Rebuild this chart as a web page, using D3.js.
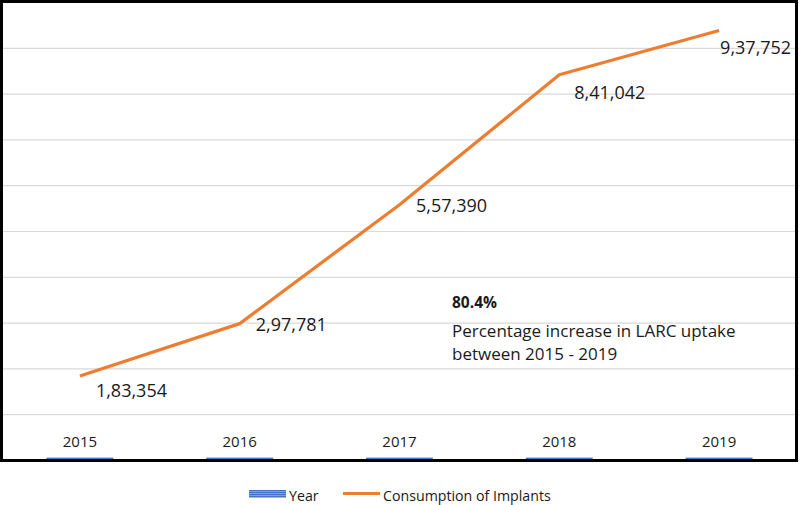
<!DOCTYPE html>
<html>
<head>
<meta charset="utf-8">
<script src="https://cdn.jsdelivr.net/npm/d3@7"></script>
<style>
  html, body { margin: 0; padding: 0; background: #fff; }
  svg { display: block; font-family: "Open Sans", "Noto Sans", sans-serif; }
</style>
</head>
<body>
<svg id="chart" width="800" height="505"></svg>
<script>
// ---- data ----
const years = ["2015", "2016", "2017", "2018", "2019"];
const yearValues = [2015, 2016, 2017, 2018, 2019];
const implants = [183354, 297781, 557390, 841042, 937752];
const yTicks = [0, 100000, 200000, 300000, 400000, 500000, 600000, 700000, 800000, 900000, 1000000];
const annotationTitle = "80.4%";
const annotationLines = ["Percentage increase in LARC uptake", "between 2015 - 2019"];
const legendLabels = ["Year", "Consumption of Implants"];

// ---- layout (label offsets relative to points) ----
const labelDx = [16, 16, 16.5, 15, 1];
const labelDy = [20.7, 7.7, 7, 24, 23];

const svg = d3.select("#chart");
const plot = { left: 0, right: 799, top: 2, bottom: 460 };

const x = d3.scaleBand().domain(years).range([plot.left, plot.right]).padding(0);
const y = d3.scaleLinear().domain([0, 1000000]).range([plot.bottom, plot.top]);

const inr = d3.formatLocale({ decimal: ".", thousands: ",", grouping: [3, 2], currency: ["", ""] }).format(",d");

// gridlines
const yAxis = d3.axisLeft(y).tickValues(yTicks).tickSize(-(plot.right - plot.left)).tickFormat("");
const gy = svg.append("g").attr("transform", `translate(${plot.left},0)`).call(yAxis);
gy.select(".domain").remove();
gy.selectAll(".tick line").attr("stroke", "#d9d9d9").attr("stroke-width", 1.2);

// category labels
const xAxis = d3.axisBottom(x).tickSize(0).tickPadding(0);
const gx = svg.append("g").attr("transform", `translate(0,${plot.bottom})`).call(xAxis);
gx.select(".domain").remove();
gx.selectAll(".tick text")
  .attr("y", -13.5).attr("dy", 0)
  .style("font-family", "'Open Sans', sans-serif")
  .style("font-size", "15px")
  .attr("fill", "#1a1a1a");

// Year bars (tiny)
const bw = x.bandwidth() * 0.4;
svg.append("g").selectAll("rect").data(years).join("rect")
  .attr("x", (d) => x(d) + x.bandwidth() / 2 - bw / 2)
  .attr("width", bw)
  .attr("y", (d, i) => y(yearValues[i]))
  .attr("height", (d, i) => y(0) - y(yearValues[i]))
  .attr("fill", "#4a7bd0")
  .attr("stroke", "#4a7bd0")
  .attr("stroke-width", 3);

// line
const cx = (i) => x(years[i]) + x.bandwidth() / 2;
const line = d3.line().x((d, i) => cx(i)).y((d) => y(d));
svg.append("path").datum(implants)
  .attr("d", line)
  .attr("fill", "none")
  .attr("stroke", "#ed7d31")
  .attr("stroke-width", 3.2)
  .attr("stroke-linejoin", "round");

// data labels
svg.append("g").selectAll("text").data(implants).join("text")
  .attr("x", (d, i) => cx(i) + labelDx[i])
  .attr("y", (d, i) => y(d) + labelDy[i])
  .style("font-size", "18px")
  .attr("fill", "#1a1a1a")
  .text((d) => inr(d));

// annotation
svg.append("text").attr("x", 452).attr("y", 308.3)
  .style("font-size", "15.5px").style("font-weight", "bold").attr("fill", "#1a1a1a")
  .text(annotationTitle);
svg.append("g").selectAll("text").data(annotationLines).join("text")
  .attr("x", 452).attr("y", (d, i) => 336.7 + i * 23.3)
  .style("font-size", "17px").attr("fill", "#1a1a1a")
  .text((d) => d);

// border
svg.append("rect").attr("x", 1.5).attr("y", 1.5).attr("width", 795).attr("height", 459)
  .attr("fill", "none").attr("stroke", "#000").attr("stroke-width", 3);

// legend
const lg = svg.append("g");
lg.append("rect").attr("x", 249).attr("y", 490).attr("width", 37).attr("height", 7.5).attr("fill", "#4472c4");
[491.5, 493.5, 495.5].forEach((yy) => {
  lg.append("line").attr("x1", 249).attr("x2", 286).attr("y1", yy).attr("y2", yy)
    .attr("stroke", "#8faadc").attr("stroke-width", 0.8);
});
lg.append("text").attr("x", 289).attr("y", 501).style("font-size", "14.2px").attr("fill", "#1a1a1a").text(legendLabels[0]);
lg.append("line").attr("x1", 343).attr("x2", 380).attr("y1", 493.5).attr("y2", 493.5)
  .attr("stroke", "#ed7d31").attr("stroke-width", 3);
lg.append("text").attr("x", 383).attr("y", 501).style("font-size", "14.2px").attr("fill", "#1a1a1a").text(legendLabels[1]);
</script>
</body>
</html>
